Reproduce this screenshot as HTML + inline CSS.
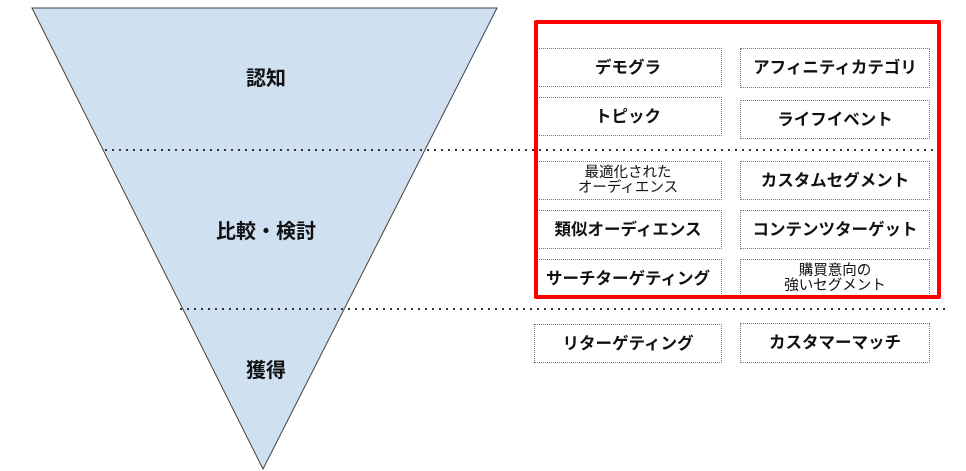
<!DOCTYPE html>
<html><head><meta charset="utf-8"><style>
body{margin:0;width:966px;height:471px;background:#fff;position:relative;overflow:hidden;font-family:"Liberation Sans","Noto Sans CJK JP",sans-serif;}
.b{position:absolute;border:1px dotted #777;box-sizing:border-box;display:flex;align-items:center;justify-content:center;text-align:center;font-weight:bold;font-size:16.5px;color:#111;line-height:18px;white-space:nowrap;}
.s{font-weight:normal;font-size:14.5px;line-height:15px;}
.t{position:absolute;font-weight:bold;font-size:20px;color:#111;transform:translateX(-50%);white-space:nowrap;}
</style></head><body>
<svg width="966" height="471" style="position:absolute;left:0;top:0">
<polygon points="32,8 497,8 263,469" fill="#cfe0f1" stroke="#444" stroke-width="1"/>
<line x1="105" y1="150" x2="945" y2="150" stroke="#333" stroke-width="2" stroke-dasharray="2,5"/>
<line x1="180" y1="309" x2="945" y2="309" stroke="#333" stroke-width="2" stroke-dasharray="2,5"/>
</svg>
<div class="t" style="left:266px;top:62px">認知</div>
<div class="t" style="left:266px;top:215px">比較・検討</div>
<div class="t" style="left:266px;top:354px">獲得</div>
<div class="b" style="left:534px;top:48px;width:188px;height:39px">デモグラ</div>
<div class="b" style="left:740px;top:48px;width:190px;height:40px">アフィニティカテゴリ</div>
<div class="b" style="left:534px;top:97px;width:188px;height:39px">トピック</div>
<div class="b" style="left:740px;top:100px;width:190px;height:39px">ライフイベント</div>
<div class="b s" style="left:534px;top:161px;width:188px;height:39px">最適化された<br>オーディエンス</div>
<div class="b" style="left:740px;top:161px;width:190px;height:39px">カスタムセグメント</div>
<div class="b" style="left:534px;top:210px;width:188px;height:39px">類似オーディエンス</div>
<div class="b" style="left:740px;top:210px;width:190px;height:39px">コンテンツターゲット</div>
<div class="b" style="left:534px;top:259px;width:188px;height:39px">サーチターゲティング</div>
<div class="b s" style="left:740px;top:259px;width:190px;height:39px">購買意向の<br>強いセグメント</div>
<div class="b" style="left:534px;top:324px;width:188px;height:39px">リターゲティング</div>
<div class="b" style="left:740px;top:323px;width:190px;height:40px">カスタマーマッチ</div>
<div style="position:absolute;left:534px;top:20px;width:407px;height:279px;border:4px solid #f00;box-sizing:border-box;border-radius:2px"></div>
</body></html>
